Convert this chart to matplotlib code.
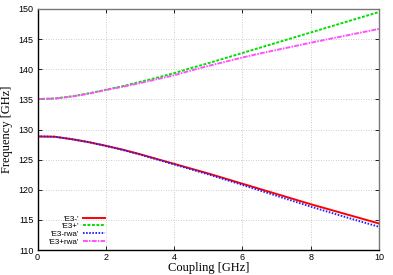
import numpy as np
import matplotlib
matplotlib.use("Agg")
import matplotlib.pyplot as plt

# coupling values [GHz]
coupling = [0, 0.5, 1, 1.5, 2, 2.5, 3, 3.5, 4, 4.5, 5,
            5.5, 6, 6.5, 7, 7.5, 8, 8.5, 9, 9.5, 10]

# eigenfrequencies [GHz]
e3_minus = [128.85, 128.8, 128.4, 127.9, 127.3, 126.65, 125.9, 125.1, 124.3, 123.5, 122.7,
            121.85, 121.0, 120.15, 119.3, 118.45, 117.6, 116.8, 116.0, 115.2, 114.4]
e3_plus = [135.05, 135.15, 135.5, 136.0, 136.6, 137.2, 137.9, 138.6, 139.35, 140.2, 141.0,
           141.85, 142.7, 143.55, 144.4, 145.25, 146.1, 146.95, 147.8, 148.65, 149.5]
e3_minus_rwa = [128.85, 128.8, 128.4, 127.9, 127.28, 126.6, 125.85, 125.02, 124.2, 123.38, 122.55,
                121.68, 120.8, 119.9, 119.0, 118.1, 117.2, 116.35, 115.5, 114.67, 113.85]
e3_plus_rwa = [135.05, 135.13, 135.45, 135.95, 136.55, 137.1, 137.7, 138.35, 139.0, 139.8, 140.55,
               141.25, 141.95, 142.6, 143.2, 143.8, 144.4, 144.98, 145.55, 146.12, 146.7]

labels = ["'E3-'", "'E3+'", "'E3-rwa'", "'E3+rwa'"]

plt.rcParams['font.family'] = ['Liberation Sans', 'DejaVu Sans']

fig = plt.figure(figsize=(3.93, 2.75), dpi=100)
ax = fig.add_axes([37.5 / 393, 25 / 275, 341.5 / 393, 241 / 275])

ax.plot(coupling, e3_minus, color='#ff0000', lw=1.4, ls='-', label=labels[0])
ax.plot(coupling, e3_plus, color='#00e000', lw=1.4, ls=(0, (1.5, 0.8)), label=labels[1])
ax.plot(coupling, e3_minus_rwa, color='#2020ff', lw=1.4, ls=(0, (0.8, 0.8)), label=labels[2])
ax.plot(coupling, e3_plus_rwa, color='#ff50ff', lw=1.4, ls=(0, (2.5, 0.6, 0.8, 0.6)), label=labels[3])

ax.set_xlim(0, 10)
ax.set_ylim(110, 150)
ax.set_xticks(np.arange(0, 11, 2))
ax.set_yticks(np.arange(110, 151, 5))

ax.grid(True, color='#bbbbbb', ls=(0, (1, 2)), lw=0.6)
ax.set_axisbelow(True)
ax.tick_params(direction='in', top=True, right=True, length=3, width=0.6,
               labelsize=6.5, pad=3)
ax.tick_params(axis='x', pad=2.5)
for s in ax.spines.values():
    s.set_linewidth(1.0)
ax.spines['top'].set_color('#777777')
ax.spines['right'].set_color('#777777')

ax.set_xlabel("Coupling [GHz]", family='Liberation Serif', fontsize=9, labelpad=-0.5)
ax.set_ylabel("Frequency [GHz]", family='Liberation Serif', fontsize=9, labelpad=4)

leg = ax.legend(loc='lower left', bbox_to_anchor=(0.015, -0.005), frameon=False,
                fontsize=5.8, markerfirst=False, handlelength=2.7,
                handletextpad=0.5, labelspacing=0.0, borderaxespad=0.3)
for t in leg.get_texts():
    t.set_ha('right')
    t.set_position((0, 0))

fig.savefig("out.png", dpi=100)
